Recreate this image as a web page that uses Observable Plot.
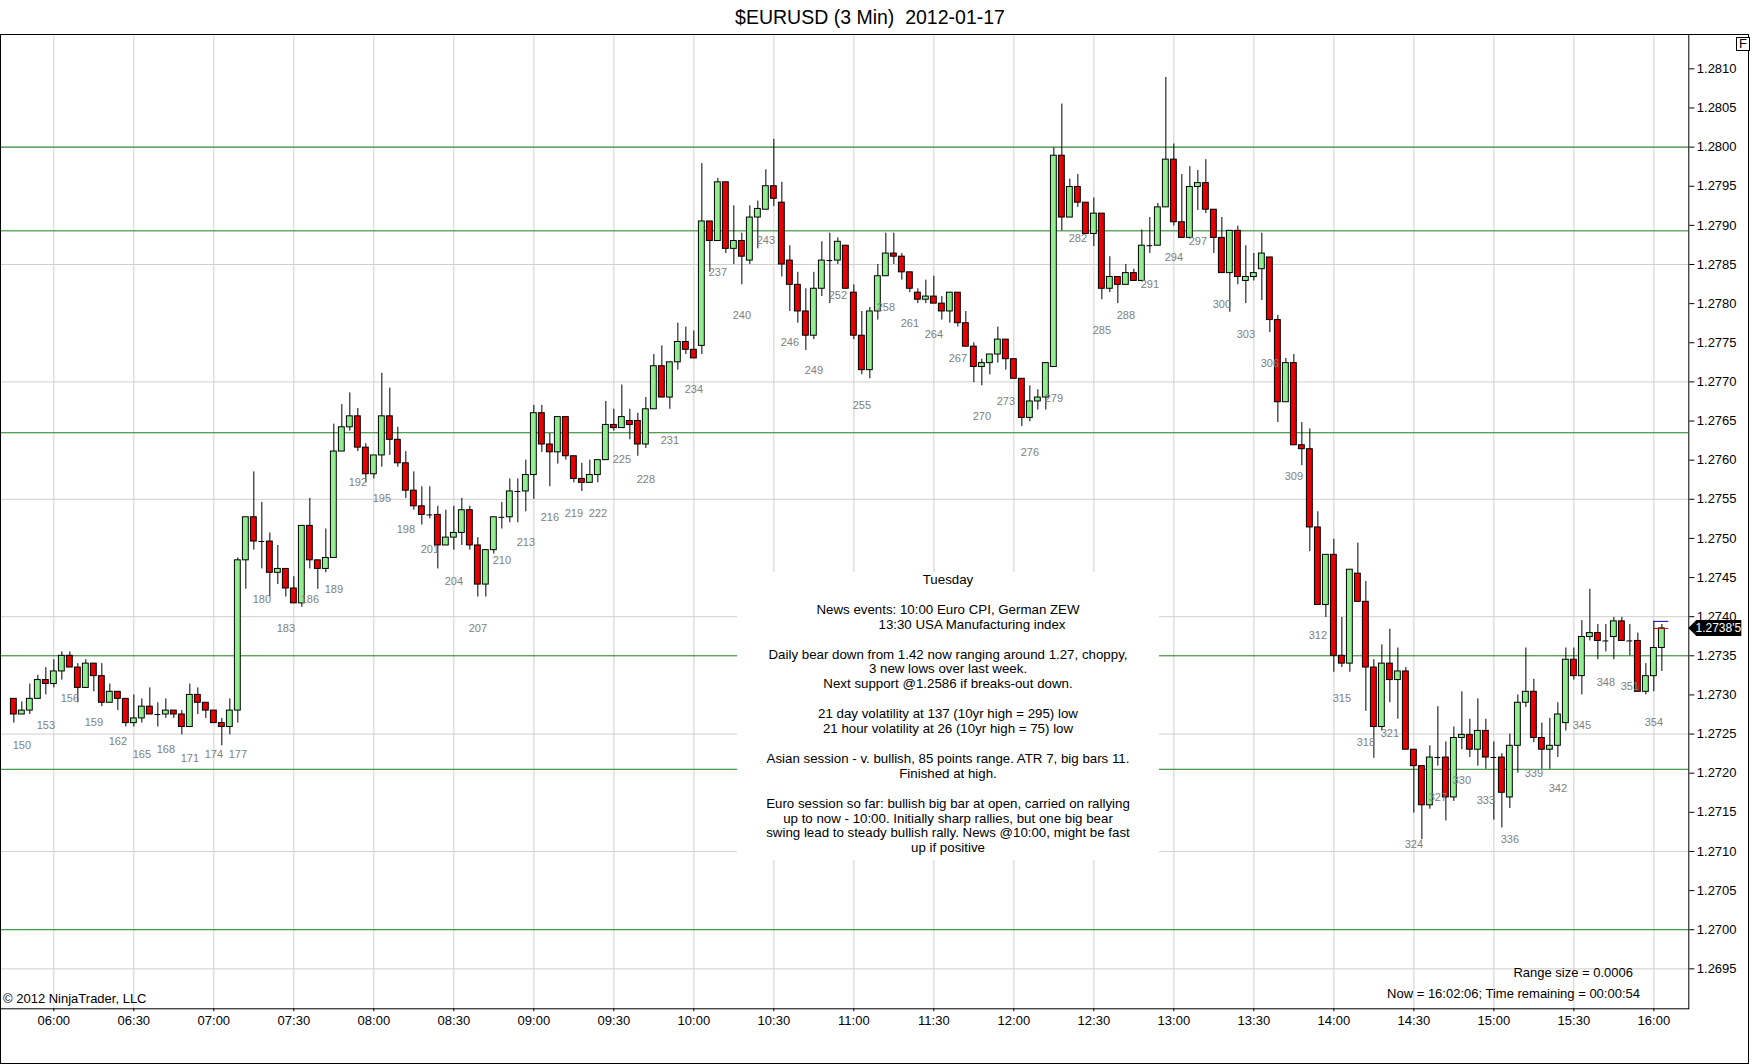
<!DOCTYPE html>
<html><head><meta charset="utf-8">
<script src="https://cdn.jsdelivr.net/npm/d3@7"></script>
<script src="https://cdn.jsdelivr.net/npm/@observablehq/plot@0.6"></script>
<style>
body{margin:0;background:#fff;font-family:"Liberation Sans",Arial,sans-serif;color:#000;}
#wrap{position:relative;width:1752px;height:1064px;overflow:hidden;}
#title{position:absolute;left:0;top:0;width:1740px;height:34px;line-height:34px;text-align:center;font-size:19.5px;white-space:pre;}
#chart{position:absolute;left:0;top:34px;}
#frame{position:absolute;left:0;top:34px;width:1749px;height:1030px;box-sizing:border-box;border:1px solid #000;pointer-events:none;}
#notes{position:absolute;left:737px;top:572px;width:422px;height:288px;background:#fff;text-align:center;font-size:13.3px;line-height:14.9px;white-space:pre;padding-top:1px;box-sizing:border-box;}
#fbtn{position:absolute;left:1736px;top:37px;width:14px;height:14px;box-sizing:border-box;border:1px solid #000;font-size:13px;line-height:12px;text-align:center;background:#fff;}
.foot{position:absolute;font-size:13px;line-height:16px;white-space:pre;}
</style></head>
<body><div id="wrap">
<div id="title"></div>
<div id="chart"></div>
<div id="notes"></div>
<div class="foot" id="copy" style="left:3px;top:991px;"></div>
<div class="foot" id="range" style="right:119px;top:965px;text-align:right;"></div>
<div class="foot" id="now" style="right:112px;top:986px;text-align:right;"></div>
<div id="frame"></div>
<div id="fbtn">F</div>
</div>
<script>
const titleText = "$EURUSD (3 Min)  2012-01-17";
const firstBar = 149;
const firstBarTime = "05:45";
const opens = [
 1.27295,1.27275,1.27280,1.27295,1.27319,1.27314,1.27330,1.27350,1.27335,1.27309,
 1.27340,1.27324,1.27290,1.27304,1.27295,1.27264,1.27270,1.27285,1.27275,1.27275,
 1.27280,1.27275,1.27259,1.27300,1.27290,1.27280,1.27264,1.27259,1.27280,1.27472,
 1.27527,1.27496,1.27496,1.27456,1.27461,1.27436,1.27417,1.27516,1.27472,1.27461,
 1.27475,1.27611,1.27642,1.27656,1.27616,1.27582,1.27606,1.27656,1.27626,1.27596,
 1.27561,1.27541,1.27530,1.27530,1.27491,1.27501,1.27507,1.27536,1.27491,1.27441,
 1.27485,1.27527,1.27527,1.27560,1.27560,1.27581,1.27660,1.27620,1.27610,1.27655,
 1.27605,1.27576,1.27571,1.27581,1.27600,1.27645,1.27641,1.27650,1.27650,1.27620,
 1.27665,1.27720,1.27680,1.27725,1.27751,1.27741,1.27746,1.27905,1.27880,1.27955,
 1.27870,1.27880,1.27855,1.27910,1.27920,1.27950,1.27929,1.27855,1.27824,1.27790,
 1.27759,1.27819,1.27855,1.27855,1.27874,1.27814,1.27759,1.27715,1.27790,1.27835,
 1.27864,1.27860,1.27840,1.27814,1.27805,1.27809,1.27800,1.27790,1.27814,1.27775,
 1.27745,1.27719,1.27724,1.27735,1.27754,1.27729,1.27704,1.27654,1.27675,1.27680,
 1.27719,1.27989,1.27910,1.27949,1.27929,1.27889,1.27915,1.27819,1.27834,1.27824,
 1.27839,1.27829,1.27874,1.27874,1.27923,1.27984,1.27904,1.27884,1.27949,1.27954,
 1.27920,1.27884,1.27839,1.27893,1.27829,1.27834,1.27844,1.27859,1.27779,1.27674,
 1.27724,1.27619,1.27614,1.27514,1.27415,1.27479,1.27350,1.27340,1.27455,1.27419,
 1.27335,1.27259,1.27340,1.27319,1.27330,1.27230,1.27209,1.27159,1.27220,1.27220,
 1.27169,1.27245,1.27249,1.27230,1.27254,1.27220,1.27220,1.27169,1.27235,1.27290,
 1.27304,1.27245,1.27230,1.27235,1.27264,1.27345,1.27324,1.27374,1.27379,1.27369,
 1.27374,1.27394,1.27369,1.27369,1.27304,1.27324,1.27360
];
const highs = [
 1.27295,1.27291,1.27314,1.27325,1.27335,1.27345,1.27355,1.27355,1.27340,1.27345,
 1.27340,1.27340,1.27314,1.27304,1.27295,1.27300,1.27295,1.27309,1.27290,1.27295,
 1.27280,1.27280,1.27314,1.27309,1.27290,1.27280,1.27270,1.27295,1.27475,1.27527,
 1.27585,1.27546,1.27507,1.27491,1.27461,1.27451,1.27516,1.27551,1.27472,1.27512,
 1.27646,1.27671,1.27686,1.27666,1.27621,1.27606,1.27711,1.27692,1.27642,1.27611,
 1.27585,1.27566,1.27566,1.27541,1.27536,1.27541,1.27551,1.27541,1.27501,1.27485,
 1.27527,1.27546,1.27576,1.27576,1.27600,1.27670,1.27670,1.27634,1.27655,1.27655,
 1.27605,1.27596,1.27600,1.27600,1.27675,1.27665,1.27696,1.27665,1.27660,1.27680,
 1.27735,1.27746,1.27725,1.27775,1.27770,1.27765,1.27979,1.27905,1.27960,1.27955,
 1.27925,1.27890,1.27925,1.27931,1.27971,1.28010,1.27955,1.27874,1.27840,1.27819,
 1.27840,1.27879,1.27890,1.27884,1.27874,1.27824,1.27790,1.27795,1.27850,1.27890,
 1.27890,1.27864,1.27840,1.27819,1.27830,1.27835,1.27809,1.27814,1.27814,1.27790,
 1.27750,1.27729,1.27735,1.27770,1.27754,1.27729,1.27704,1.27695,1.27690,1.27724,
 1.27999,1.28055,1.27959,1.27965,1.27929,1.27935,1.27915,1.27860,1.27834,1.27850,
 1.27844,1.27894,1.27910,1.27928,1.28089,1.28004,1.27965,1.27975,1.27970,1.27984,
 1.27920,1.27910,1.27893,1.27899,1.27874,1.27864,1.27890,1.27859,1.27785,1.27730,
 1.27735,1.27648,1.27640,1.27534,1.27479,1.27499,1.27399,1.27460,1.27494,1.27445,
 1.27345,1.27364,1.27384,1.27360,1.27335,1.27230,1.27209,1.27235,1.27285,1.27240,
 1.27259,1.27304,1.27269,1.27295,1.27269,1.27240,1.27225,1.27250,1.27300,1.27360,
 1.27320,1.27264,1.27270,1.27290,1.27360,1.27360,1.27395,1.27435,1.27390,1.27390,
 1.27399,1.27399,1.27390,1.27379,1.27340,1.27394,1.27390
];
const lows = [
 1.27264,1.27275,1.27275,1.27295,1.27300,1.27309,1.27319,1.27335,1.27290,1.27309,
 1.27304,1.27285,1.27290,1.27280,1.27259,1.27259,1.27264,1.27275,1.27259,1.27270,
 1.27270,1.27249,1.27259,1.27275,1.27270,1.27264,1.27235,1.27249,1.27264,1.27435,
 1.27485,1.27461,1.27425,1.27441,1.27425,1.27417,1.27412,1.27461,1.27435,1.27456,
 1.27475,1.27611,1.27637,1.27611,1.27571,1.27576,1.27591,1.27606,1.27591,1.27551,
 1.27536,1.27517,1.27525,1.27461,1.27491,1.27485,1.27491,1.27485,1.27425,1.27425,
 1.27480,1.27512,1.27520,1.27520,1.27534,1.27550,1.27610,1.27566,1.27595,1.27600,
 1.27571,1.27560,1.27571,1.27571,1.27600,1.27637,1.27641,1.27626,1.27605,1.27615,
 1.27665,1.27680,1.27665,1.27715,1.27735,1.27730,1.27735,1.27840,1.27880,1.27864,
 1.27850,1.27824,1.27850,1.27870,1.27920,1.27924,1.27834,1.27790,1.27775,1.27740,
 1.27754,1.27809,1.27800,1.27850,1.27819,1.27754,1.27709,1.27704,1.27779,1.27835,
 1.27850,1.27830,1.27814,1.27800,1.27800,1.27800,1.27779,1.27775,1.27770,1.27745,
 1.27699,1.27695,1.27709,1.27724,1.27715,1.27704,1.27643,1.27649,1.27664,1.27664,
 1.27719,1.27893,1.27910,1.27923,1.27889,1.27873,1.27805,1.27814,1.27800,1.27824,
 1.27829,1.27829,1.27864,1.27874,1.27923,1.27899,1.27884,1.27884,1.27919,1.27915,
 1.27864,1.27839,1.27789,1.27824,1.27800,1.27829,1.27804,1.27763,1.27648,1.27674,
 1.27619,1.27593,1.27483,1.27415,1.27399,1.27329,1.27335,1.27329,1.27419,1.27279,
 1.27219,1.27254,1.27290,1.27269,1.27230,1.27149,1.27115,1.27154,1.27209,1.27139,
 1.27164,1.27230,1.27220,1.27209,1.27205,1.27140,1.27130,1.27155,1.27200,1.27284,
 1.27239,1.27205,1.27205,1.27220,1.27254,1.27319,1.27300,1.27369,1.27345,1.27355,
 1.27345,1.27369,1.27350,1.27304,1.27300,1.27304,1.27330
];
const closes = [
 1.27275,1.27280,1.27295,1.27319,1.27314,1.27330,1.27350,1.27335,1.27309,1.27340,
 1.27324,1.27290,1.27304,1.27295,1.27264,1.27270,1.27285,1.27275,1.27275,1.27280,
 1.27275,1.27259,1.27300,1.27290,1.27280,1.27264,1.27259,1.27280,1.27472,1.27527,
 1.27496,1.27496,1.27456,1.27461,1.27436,1.27417,1.27516,1.27472,1.27461,1.27475,
 1.27611,1.27642,1.27656,1.27616,1.27582,1.27606,1.27656,1.27626,1.27596,1.27561,
 1.27541,1.27530,1.27530,1.27491,1.27501,1.27507,1.27536,1.27491,1.27441,1.27485,
 1.27527,1.27527,1.27560,1.27560,1.27581,1.27660,1.27620,1.27610,1.27655,1.27605,
 1.27576,1.27571,1.27581,1.27600,1.27645,1.27641,1.27655,1.27645,1.27620,1.27665,
 1.27720,1.27680,1.27725,1.27751,1.27741,1.27730,1.27905,1.27880,1.27955,1.27870,
 1.27880,1.27860,1.27910,1.27921,1.27950,1.27934,1.27850,1.27824,1.27790,1.27759,
 1.27819,1.27855,1.27855,1.27879,1.27819,1.27759,1.27715,1.27790,1.27835,1.27864,
 1.27860,1.27840,1.27819,1.27805,1.27809,1.27800,1.27790,1.27814,1.27775,1.27745,
 1.27719,1.27724,1.27735,1.27754,1.27729,1.27704,1.27654,1.27675,1.27680,1.27724,
 1.27989,1.27910,1.27949,1.27929,1.27889,1.27915,1.27819,1.27834,1.27824,1.27839,
 1.27829,1.27874,1.27874,1.27923,1.27984,1.27904,1.27884,1.27949,1.27954,1.27920,
 1.27884,1.27839,1.27893,1.27834,1.27834,1.27839,1.27864,1.27779,1.27674,1.27724,
 1.27619,1.27614,1.27514,1.27415,1.27479,1.27350,1.27340,1.27460,1.27419,1.27335,
 1.27259,1.27340,1.27319,1.27330,1.27230,1.27209,1.27159,1.27220,1.27220,1.27169,
 1.27245,1.27249,1.27230,1.27254,1.27220,1.27220,1.27175,1.27235,1.27290,1.27304,
 1.27245,1.27230,1.27235,1.27275,1.27345,1.27324,1.27374,1.27379,1.27369,1.27369,
 1.27394,1.27369,1.27369,1.27304,1.27324,1.27360,1.27385
];
const levelLines = [1.2800, 1.27893, 1.27635, 1.2735, 1.27205, 1.2700];
const priceTicks = [1.2695,1.2700,1.2705,1.2710,1.2715,1.2720,1.2725,1.2730,1.2735,1.2740,1.2745,1.2750,
  1.2755,1.2760,1.2765,1.2770,1.2775,1.2780,1.2785,1.2790,1.2795,1.2800,1.2805,1.2810];
const priceGrid = [1.2695,1.2710,1.2725,1.2740,1.2755,1.2770,1.2785,1.2800];
const timeLabels = ["06:00","06:30","07:00","07:30","08:00","08:30","09:00","09:30","10:00","10:30",
  "11:00","11:30","12:00","12:30","13:00","13:30","14:00","14:30","15:00","15:30","16:00"];
const rangeTop = 1.27394;
const noteLines = [
 "Tuesday","",
 "News events: 10:00 Euro CPI, German ZEW",
 "             13:30 USA Manufacturing index","",
 "Daily bear down from 1.42 now ranging around 1.27, choppy,",
 "3 new lows over last week.",
 "Next support @1.2586 if breaks-out down.","",
 "21 day volatility at 137 (10yr high = 295) low",
 "21 hour volatility at 26 (10yr high = 75) low","",
 "Asian session - v. bullish, 85 points range. ATR 7, big bars 11.",
 "Finished at high.","",
 "Euro session so far: bullish big bar at open, carried on rallying",
 "up to now - 10:00. Initially sharp rallies, but one big bear",
 "swing lead to steady bullish rally. News @10:00, might be fast",
 "up if positive"
];
const copyrightText = "\u00a9 2012 NinjaTrader, LLC";
const rangeText = "Range size = 0.0006";
const nowText = "Now = 16:02:06; Time remaining = 00:00:54";

const toMin = s => { const [h, m] = s.split(":").map(Number); return h * 60 + m; };
const fmtMin = m => String(Math.floor(m / 60)).padStart(2, "0") + ":" + String(m % 60).padStart(2, "0");
const t0 = toMin(firstBarTime);
const bars = opens.map((o, i) => ({bar: firstBar + i, t: t0 + 3 * i, open: o, high: highs[i], low: lows[i], close: closes[i]}));
const ups = bars.filter(d => d.close > d.open);
const downs = bars.filter(d => d.close < d.open);
const dojis = bars.filter(d => d.close === d.open);
const labelled = bars.filter(d => d.bar >= 150 && (d.bar - 150) % 3 === 0);
const xTicks = timeLabels.map(toMin);
const half = 1.1;
const last = bars[bars.length - 1], prev = bars[bars.length - 2];

document.getElementById("title").textContent = titleText;
document.getElementById("notes").textContent = noteLines.join("\n");
document.getElementById("copy").textContent = copyrightText;
document.getElementById("range").textContent = rangeText;
document.getElementById("now").textContent = nowText;

const svg = Plot.plot({
  width: 1752, height: 1030,
  marginLeft: 0, marginRight: 63.7, marginTop: 0, marginBottom: 55.7,
  style: {fontFamily: '"Liberation Sans", Arial, sans-serif', fontSize: "13px", background: "#fff", color: "#000"},
  x: {type: "linear", domain: [340, 973.1]},
  y: {domain: [1.2689895, 1.2814389]},
  marks: [
    Plot.gridX(xTicks, {stroke: "#cfcfcf", strokeOpacity: 1}),
    Plot.gridY(priceGrid, {stroke: "#cfcfcf", strokeOpacity: 1}),
    Plot.ruleY(levelLines, {stroke: "#1a7f1a", strokeWidth: 1}),
    Plot.ruleX(bars, {x: "t", y1: "low", y2: "high", stroke: "#000", strokeWidth: 1}),
    Plot.rect(ups, {x1: d => d.t - half, x2: d => d.t + half, y1: "open", y2: "close", fill: "#90ee90", stroke: "#000", strokeWidth: 1}),
    Plot.rect(downs, {x1: d => d.t - half, x2: d => d.t + half, y1: "open", y2: "close", fill: "#e80000", stroke: "#000", strokeWidth: 1}),
    Plot.ruleY(dojis, {y: "open", x1: d => d.t - half, x2: d => d.t + half, stroke: "#000"}),
    Plot.text(labelled, {x: "t", y: "low", text: d => String(d.bar), dy: 31, fill: "#808080", fontSize: 11, lineAnchor: "middle"}),
    Plot.ruleY([rangeTop], {x1: prev.t, x2: last.t + 2.6, stroke: "#0000cc"}),
    Plot.ruleY([last.close], {x1: prev.t, x2: last.t + 2.6, stroke: "#cc0000"}),
    Plot.frame({stroke: "#000"}),
    Plot.axisX(xTicks, {tickFormat: fmtMin, tickSize: 3, tickPadding: 4, label: null, fontSize: 13}),
    Plot.axisY(priceTicks, {anchor: "right", tickFormat: d3.format(".4f"), tickSize: 5, tickPadding: 3, label: null, fontSize: 13})
  ]
});
document.getElementById("chart").appendChild(svg);

// last price marker on the price axis
const yy = svg.scale("y").apply(last.close);
const xr = 1752 - 63.7;
const s = last.close.toFixed(5);
const g = d3.select(svg).append("g");
g.append("path").attr("d", `M${xr},${yy} L${xr + 8},${yy - 8} L${xr + 53},${yy - 8} L${xr + 53},${yy + 8} L${xr + 8},${yy + 8} Z`).attr("fill", "#000");
g.append("text").attr("x", xr + 30).attr("y", yy).attr("dy", "0.35em").attr("text-anchor", "middle")
  .attr("fill", "#fff").attr("font-size", 12).text(s.slice(0, 6) + "'" + s.slice(6));
</script>
</body></html>
